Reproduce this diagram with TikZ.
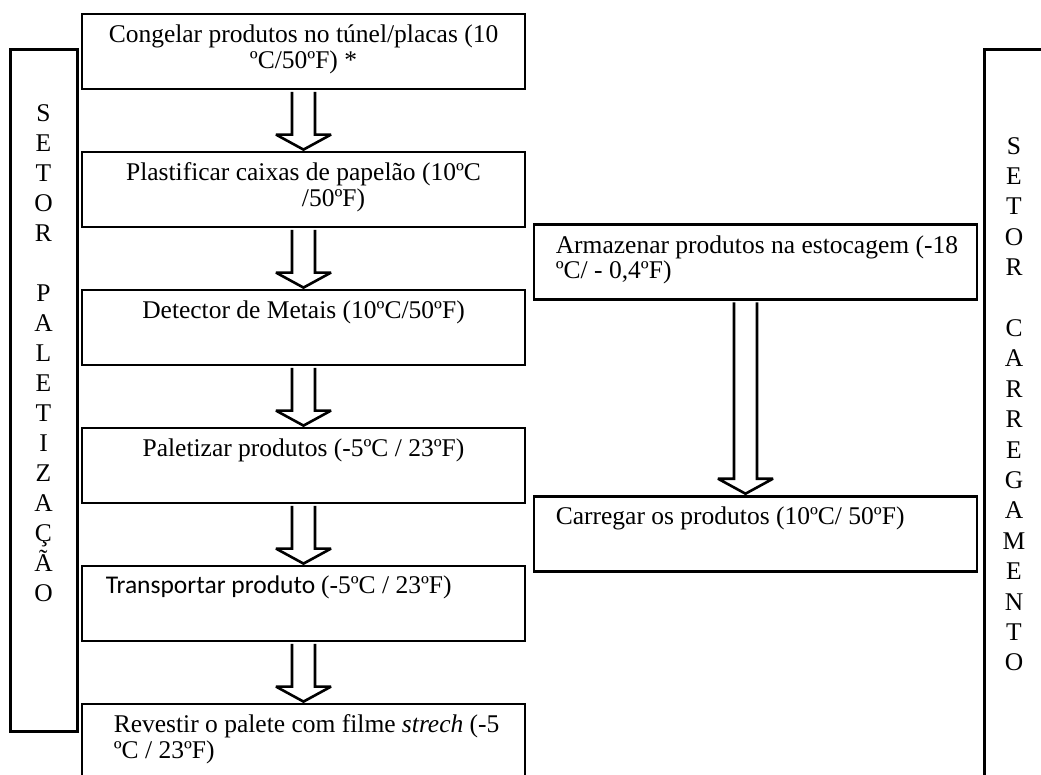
\documentclass[tikz,border=0pt]{standalone}
\usepackage{fontspec}
\setmainfont{Liberation Serif}
\newfontfamily\sansfont{Carlito}
\usetikzlibrary{calc,positioning}
\tikzstyle{stepbox} = [rectangle, minimum width=443pt, minimum height=75pt, inner sep=0pt, draw=black, line width=2.8pt, fill=white]
\tikzstyle{sidebox} = [rectangle, inner sep=0pt, draw=black, line width=3pt, fill=white]
\tikzstyle{boxtext} = [inner sep=0pt, font=\fontsize{25.5}{25.5}\selectfont]
\tikzstyle{sidetext} = [inner sep=0pt, align=center, anchor=north]
\tikzstyle{fat} = [draw=black, line width=2.6pt, fill=white, miter limit=4]
% hollow block arrow from the bottom of #2 to the top of #3
\newcommand{\fatarrow}[3][0pt]{%
  \draw[fat] let \p1=([xshift=#1]#2.south), \p2=([xshift=#1]#3.north) in
    (\x1-11.5pt,\y1-1.4pt) -- (\x1-11.5pt,\y2+16pt) -- (\x1-27.5pt,\y2+16pt) -- (\x1,\y2+1pt)
    -- (\x1+27.5pt,\y2+16pt) -- (\x1+11.5pt,\y2+16pt) -- (\x1+11.5pt,\y1-1.4pt);}

\begin{document}
\begin{tikzpicture}[x=1pt, y=-1pt, node distance=60.2pt]
\useasboundingbox (0,0) rectangle (1041,774);
\clip (0,0) rectangle (1041,774);
% side sectors
\node (palet) [sidebox, minimum width=67pt, minimum height=682pt] at (43.5,390) {};
\node (carreg) [sidebox, minimum width=120pt, minimum height=800pt, anchor=north west] at (983,48) {};
\node (palet-txt) [sidetext, font=\fontsize{25.5}{30}\selectfont] at ([yshift=-57pt]palet.north)
  {S\\E\\T\\O\\R\\[30pt]P\\A\\L\\E\\T\\I\\Z\\A\\Ç\\Ã\\O};
\node (carreg-txt) [sidetext, font=\fontsize{25.5}{30.4}\selectfont] at ([xshift=31pt,yshift=-89pt]carreg.north west)
  {S\\E\\T\\O\\R\\[30.4pt]C\\A\\R\\R\\E\\G\\A\\M\\E\\N\\T\\O};
% left column
\node (congelar) [stepbox] at (303.5,51.5) {};
\node (plastificar) [stepbox, below=of congelar] {};
\node (detector) [stepbox, below=of plastificar] {};
\node (paletizar) [stepbox, below=of detector] {};
\node (transportar) [stepbox, below=of paletizar] {};
\node (revestir) [stepbox, below=of transportar] {};
% right column
\node (armazenar) [stepbox] at (755.5,262) {};
\node (carregar) [stepbox, below=193.8pt of armazenar] {};
% texts
\node (congelar-txt) [boxtext, align=center, anchor=north] at ([yshift=-12pt]congelar.north)
  {\strut Congelar produtos no túnel/placas (10\\ºC/50ºF) *};
\node (plastificar-txt) [boxtext, align=center, anchor=north] at ([yshift=-12pt]plastificar.north)
  {\strut Plastificar caixas de papelão (10ºC\\\hspace*{60pt}/50ºF)};
\node (detector-txt) [boxtext, anchor=north] at ([yshift=-12pt]detector.north)
  {\strut Detector de Metais (10ºC/50ºF)};
\node (paletizar-txt) [boxtext, anchor=north] at ([yshift=-12pt]paletizar.north)
  {\strut Paletizar produtos (-5ºC / 23ºF)};
\node (transportar-txt) [boxtext, anchor=north west] at ([xshift=25pt,yshift=-11pt]transportar.north west)
  {\strut{\sansfont Transportar produto }(-5ºC / 23ºF)};
\node (revestir-txt) [boxtext, align=left, anchor=north west] at ([xshift=33pt,yshift=-12pt]revestir.north west)
  {\strut Revestir o palete com filme \textit{strech} (-5\\ºC / 23ºF)};
\node (armazenar-txt) [boxtext, align=left, anchor=north west] at ([xshift=23pt,yshift=-12pt]armazenar.north west)
  {\strut Armazenar produtos na estocagem (-18\\ºC/ - 0,4ºF)};
\node (carregar-txt) [boxtext, anchor=north west] at ([xshift=23pt,yshift=-12pt]carregar.north west)
  {\strut Carregar os produtos (10ºC/ 50ºF)};
% arrows
\fatarrow{congelar}{plastificar}
\fatarrow{plastificar}{detector}
\fatarrow{detector}{paletizar}
\fatarrow{paletizar}{transportar}
\fatarrow{transportar}{revestir}
\fatarrow[-10pt]{armazenar}{carregar}
\end{tikzpicture}
\end{document}
